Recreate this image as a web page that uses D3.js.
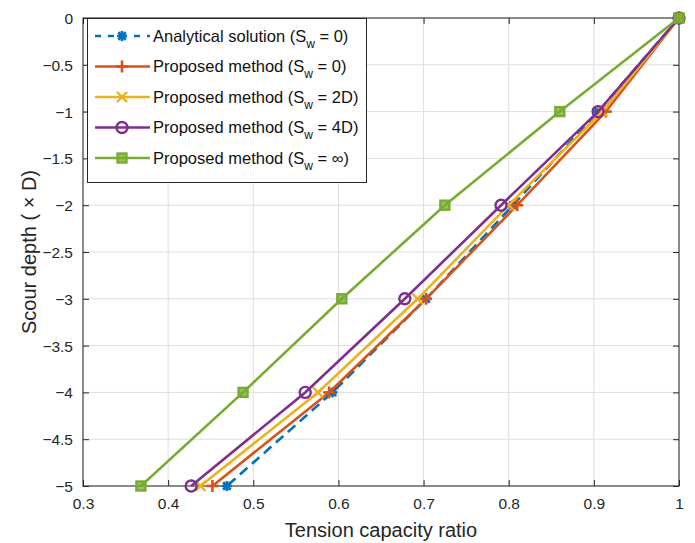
<!DOCTYPE html>
<html>
<head>
<meta charset="utf-8">
<script src="https://cdn.jsdelivr.net/npm/d3@7"></script>
<style>
  body { margin: 0; background: #fff; }
  svg { font-family: "Liberation Sans", Arial, sans-serif; }
</style>
</head>
<body>
<div id="chart"></div>
<script>
// depths (x D)
depths = [0, -1, -2, -3, -4, -5];

analytical = [1, 0.905, 0.805, 0.703, 0.593, 0.469];
proposedS0 = [1, 0.914, 0.81, 0.703, 0.589, 0.452];
proposed2D = [1, 0.91, 0.80, 0.693, 0.576, 0.438];
proposed4D = [1, 0.905, 0.791, 0.678, 0.561, 0.427];
proposedInf = [1, 0.86, 0.725, 0.604, 0.488, 0.368];

seriesNames = ["Analytical solution", "Proposed method", "Proposed method", "Proposed method", "Proposed method"];
seriesSw = ["0", "0", "2D", "4D", "\u221E"];

xTicks = [0.3, 0.4, 0.5, 0.6, 0.7, 0.8, 0.9, 1];
yTicks = [0, -0.5, -1, -1.5, -2, -2.5, -3, -3.5, -4, -4.5, -5];

colors = ["#0072BD", "#D95319", "#EDB120", "#7E2F8E", "#77AC30"];
markers = ["star", "plus", "cross", "circle", "square"];

width = 695;
height = 543;
margin = ({top: 18, right: 16, bottom: 57, left: 83});

const series = [analytical, proposedS0, proposed2D, proposed4D, proposedInf].map((vals, i) => ({
  name: seriesNames[i],
  sw: seriesSw[i],
  color: colors[i],
  marker: markers[i],
  dashed: i === 0,
  points: vals.map((v, j) => ({x: v, y: depths[j]}))
}));

const svg = d3.select("#chart").append("svg")
  .attr("width", width)
  .attr("height", height);

const x = d3.scaleLinear().domain([0.3, 1]).range([margin.left, width - margin.right]);
const y = d3.scaleLinear().domain([-5, 0]).range([height - margin.bottom, margin.top]);

const x0 = margin.left, x1 = width - margin.right;
const y0 = margin.top, y1 = height - margin.bottom;

// grid
svg.append("g")
  .selectAll("line.gx")
  .data(xTicks)
  .join("line")
  .attr("x1", d => x(d)).attr("x2", d => x(d))
  .attr("y1", y0).attr("y2", y1)
  .attr("stroke", "#dedede").attr("stroke-width", 1);

svg.append("g")
  .selectAll("line.gy")
  .data(yTicks)
  .join("line")
  .attr("y1", d => y(d)).attr("y2", d => y(d))
  .attr("x1", x0).attr("x2", x1)
  .attr("stroke", "#dedede").attr("stroke-width", 1);

// axes (ticks inside, like matlab)
const axisColor = "#262626";
const gx = svg.append("g")
  .attr("transform", `translate(0,${y1})`)
  .call(d3.axisBottom(x).tickValues(xTicks).tickSize(-6).tickPadding(12).tickFormat(d3.format("")));
const gy = svg.append("g")
  .attr("transform", `translate(${x0},0)`)
  .call(d3.axisLeft(y).tickValues(yTicks).tickSize(-6).tickPadding(10).tickFormat(d3.format("")));
const gxt = svg.append("g")
  .attr("transform", `translate(0,${y0})`)
  .call(d3.axisTop(x).tickValues(xTicks).tickSize(-6).tickFormat(""));
const gyr = svg.append("g")
  .attr("transform", `translate(${x1},0)`)
  .call(d3.axisRight(y).tickValues(yTicks).tickSize(-6).tickFormat(""));

[gx, gy, gxt, gyr].forEach(g => {
  g.select(".domain").remove();
  g.selectAll(".tick line").attr("stroke", axisColor);
  g.selectAll("text").attr("fill", axisColor).attr("font-size", 15.5)
    .attr("font-family", "Liberation Sans, Arial, sans-serif");
});
gy.selectAll("text").attr("dy", "0.35em");

svg.append("rect")
  .attr("x", x0).attr("y", y0)
  .attr("width", x1 - x0).attr("height", y1 - y0)
  .attr("fill", "none").attr("stroke", axisColor).attr("stroke-width", 1);

// lines
const line = d3.line().x(d => x(d.x)).y(d => y(d.y));

function drawMarker(g, type, color, cx, cy) {
  const s = 5;
  if (type === "star") {
    const p = g.append("g").attr("stroke", color).attr("stroke-width", 2.6);
    p.append("line").attr("x1", cx - s).attr("x2", cx + s).attr("y1", cy).attr("y2", cy);
    p.append("line").attr("x1", cx).attr("x2", cx).attr("y1", cy - s).attr("y2", cy + s);
    p.append("line").attr("x1", cx - s * 0.75).attr("x2", cx + s * 0.75).attr("y1", cy - s * 0.75).attr("y2", cy + s * 0.75);
    p.append("line").attr("x1", cx - s * 0.75).attr("x2", cx + s * 0.75).attr("y1", cy + s * 0.75).attr("y2", cy - s * 0.75);
  } else if (type === "plus") {
    const p = g.append("g").attr("stroke", color).attr("stroke-width", 2.6);
    p.append("line").attr("x1", cx - s - 1).attr("x2", cx + s + 1).attr("y1", cy).attr("y2", cy);
    p.append("line").attr("x1", cx).attr("x2", cx).attr("y1", cy - s - 1).attr("y2", cy + s + 1);
  } else if (type === "cross") {
    const p = g.append("g").attr("stroke", color).attr("stroke-width", 2.4);
    p.append("line").attr("x1", cx - s).attr("x2", cx + s).attr("y1", cy - s).attr("y2", cy + s);
    p.append("line").attr("x1", cx - s).attr("x2", cx + s).attr("y1", cy + s).attr("y2", cy - s);
  } else if (type === "circle") {
    g.append("circle").attr("cx", cx).attr("cy", cy).attr("r", 5.5)
      .attr("fill", "none").attr("stroke", color).attr("stroke-width", 2.4);
  } else if (type === "square") {
    g.append("rect").attr("x", cx - 4.5).attr("y", cy - 4.5).attr("width", 9).attr("height", 9)
      .attr("fill", color).attr("fill-opacity", 0.75).attr("stroke", color).attr("stroke-width", 2.4);
  }
}

const plot = svg.append("g");
series.forEach(s => {
  plot.append("path")
    .datum(s.points)
    .attr("d", line)
    .attr("fill", "none")
    .attr("stroke", s.color)
    .attr("stroke-width", 2.6)
    .attr("stroke-dasharray", s.dashed ? "10,6" : null);
  const mg = plot.append("g");
  s.points.forEach(p => drawMarker(mg, s.marker, s.color, x(p.x), y(p.y)));
});

// legend
const lg = svg.append("g");
lg.append("rect")
  .attr("x", 87.5).attr("y", 18.5)
  .attr("width", 279).attr("height", 164)
  .attr("fill", "#fff").attr("stroke", axisColor).attr("stroke-width", 1);

series.forEach((s, i) => {
  const ly = 36 + i * 30.5;
  lg.append("line")
    .attr("x1", 95).attr("x2", 150).attr("y1", ly).attr("y2", ly)
    .attr("stroke", s.color).attr("stroke-width", 2.6)
    .attr("stroke-dasharray", s.dashed ? "6,7" : null);
  drawMarker(lg, s.marker, s.color, 122, ly);
  const t = lg.append("text")
    .attr("x", 153).attr("y", ly + 5.5)
    .attr("font-size", 16.5)
    .attr("fill", "#111");
  t.append("tspan").text(s.name + " (S");
  t.append("tspan").attr("font-size", 12).attr("dy", 6).text("w");
  t.append("tspan").attr("dy", -6).text(" = " + s.sw + ")");
});

// axis labels
svg.append("text")
  .attr("x", (x0 + x1) / 2).attr("y", 537)
  .attr("text-anchor", "middle")
  .attr("font-size", 20).attr("fill", axisColor)
  .text("Tension capacity ratio");

svg.append("text")
  .attr("transform", `translate(36,${(y0 + y1) / 2}) rotate(-90)`)
  .attr("text-anchor", "middle")
  .attr("font-size", 20).attr("fill", axisColor)
  .text("Scour depth ( \u00D7 D)");
</script>
</body>
</html>
